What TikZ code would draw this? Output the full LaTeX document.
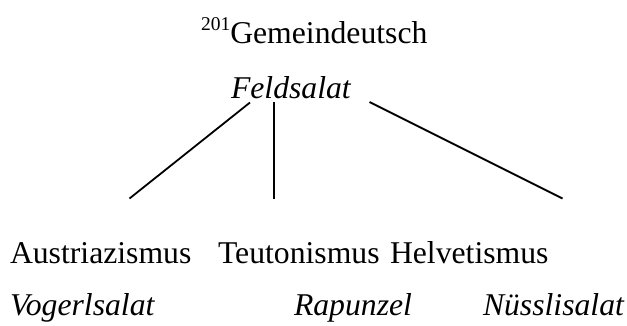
\documentclass[tikz,border=0pt]{standalone}
\usepackage{fontspec}
\setmainfont{Liberation Serif}
\begin{document}
\begin{tikzpicture}[x=1pt,y=-1pt,
  word/.style={anchor=base west,inner sep=0pt,outer sep=0pt,
    font=\fontsize{31.7}{38}\selectfont},
  form/.style={word,font=\fontsize{31.7}{38}\selectfont\itshape},
  branch/.style={line width=1.8pt,line cap=butt}]
\useasboundingbox (0,0) rectangle (627,325);

% heading with footnote number
\node[word] (head) at (201,43)
  {\raisebox{13pt}{\fontsize{19.5}{22}\selectfont 201}Gemeindeutsch};
\node[form] (feld) at (231,98) {Feldsalat};

% varieties and their forms
\node[word] (aut) at (10,263.5) {Austriazismus};
\node[word] (teu) at (218,263.5) {Teutonismus};
\node[word] (hel) at (390,263.5) {Helvetismus};
\node[form] (vog) at (10,315) {Vogerlsalat};
\node[form] (rap) at (294,315) {Rapunzel};
\node[form] (nue) at (483,315) {Nüsslisalat};

% branch ends
\coordinate (s1) at (250,102.5);
\coordinate (s2) at (274,102);
\coordinate (s3) at (369.5,102);
\coordinate (e1) at (129.5,198.5);
\coordinate (e2) at (274,199);
\coordinate (e3) at (562.5,198.5);

\draw[branch] (s1) -- (e1);
\draw[branch] (s2) -- (e2);
\draw[branch] (s3) -- (e3);
\end{tikzpicture}
\end{document}
